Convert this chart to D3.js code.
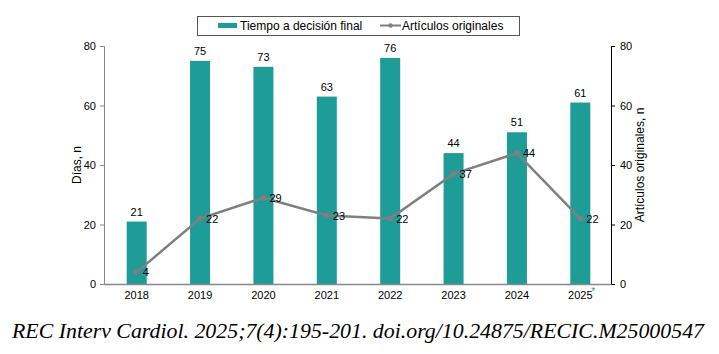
<!DOCTYPE html>
<meta charset="utf-8">
<script src="https://d3js.org/d3.v7.min.js"></script>
<style>
  body { margin: 0; background: #fff; }
  text { font-family: "Liberation Sans", Arial, sans-serif; }
</style>
<div id="chart"></div>
<script>

// data
var years = ["2018", "2019", "2020", "2021", "2022", "2023", "2024", "2025"];
var dias = [21, 75, 73, 63, 76, 44, 51, 61];
var articulos = [4, 22, 29, 23, 22, 37, 44, 22];
var ticks = [0, 20, 40, 60, 80];

var teal = "#1e9c97",
    grey = "#7f7f7f";

var svg = d3.select("#chart")
  .append("svg")
    .attr("width", 719)
    .attr("height", 354);

// scales
var x = d3.scaleBand()
  .domain(years)
  .range([104, 611])
  .padding(0);

var y = d3.scaleLinear().domain([0, 80]).range([284, 46]);
var y2 = d3.scaleLinear().domain([0, 80]).range([284, 46]);

var barW = 20;
function cx(d) { return x(d) + x.bandwidth() / 2 + 1; }

// bars
svg.selectAll("rect.bar")
  .data(years)
  .enter()
  .append("rect")
    .attr("class", "bar")
    .attr("x", function(d) { return cx(d) - barW / 2; })
    .attr("y", function(d, i) { return y(dias[i]); })
    .attr("width", barW)
    .attr("height", function(d, i) { return y(0) - y(dias[i]); })
    .attr("fill", teal);

svg.selectAll("text.barlab")
  .data(years)
  .enter()
  .append("text")
    .attr("x", function(d) { return cx(d); })
    .attr("y", function(d, i) { return y(dias[i]) - 6; })
    .attr("text-anchor", "middle")
    .style("font-size", "11px")
    .text(function(d, i) { return dias[i]; });

// left axis
var left = svg.append("g")
  .attr("transform", "translate(104,0)")
  .call(d3.axisLeft(y).tickValues(ticks).tickSize(4).tickPadding(4));
left.select(".domain").attr("stroke", "#888");
left.selectAll(".tick line").attr("stroke", "#888");
left.selectAll("text").style("font-size", "11px").attr("fill", "#000");

// right axis
var right = svg.append("g")
  .attr("transform", "translate(611,0)")
  .call(d3.axisRight(y2).tickValues(ticks).tickSize(4).tickPadding(5));
right.selectAll("text").style("font-size", "11px").attr("fill", "#000");

// x axis
var bottom = svg.append("g")
  .attr("transform", "translate(0,284)")
  .call(d3.axisBottom(x).tickSize(0).tickPadding(7));
bottom.select(".domain").attr("stroke", "#888").attr("stroke-width", 1.5);
bottom.selectAll("text").style("font-size", "11px").attr("fill", "#000")
  .attr("dx", 1);
bottom.selectAll(".tick")
  .filter(function(d) { return d === "2025"; })
  .append("text")
    .attr("x", 14)
    .attr("y", 11)
    .attr("fill", teal)
    .style("font-size", "10px")
    .text("*");

// line
var line = d3.line()
  .x(function(d) { return cx(d); })
  .y(function(d, i) { return y2(articulos[i]); });

svg.append("path")
  .datum(years)
  .attr("fill", "none")
  .attr("stroke", grey)
  .attr("stroke-width", 2.5)
  .attr("d", line);

svg.selectAll("circle.pt")
  .data(years)
  .enter()
  .append("circle")
    .attr("cx", function(d) { return cx(d); })
    .attr("cy", function(d, i) { return y2(articulos[i]); })
    .attr("r", 3)
    .attr("fill", grey);

svg.selectAll("text.ptlab")
  .data(years)
  .enter()
  .append("text")
    .attr("x", function(d) { return cx(d) + 6; })
    .attr("y", function(d, i) { return y2(articulos[i]) + 4; })
    .style("font-size", "11px")
    .text(function(d, i) { return articulos[i]; });

// axis titles
svg.append("text")
  .attr("transform", "translate(81,165) rotate(-90)")
  .attr("text-anchor", "middle")
  .style("font-size", "12px")
  .text("Días, n");

svg.append("text")
  .attr("transform", "translate(644,165) rotate(-90)")
  .attr("text-anchor", "middle")
  .style("font-size", "12px")
  .text("Artículos originales, n");

// legend
var lg = svg.append("g");
lg.append("rect")
  .attr("x", 197.5).attr("y", 16.5)
  .attr("width", 322).attr("height", 19)
  .attr("fill", "#fff").attr("stroke", "#555");
lg.append("rect")
  .attr("x", 218).attr("y", 23)
  .attr("width", 19).attr("height", 5)
  .attr("fill", teal);
lg.append("text")
  .attr("x", 240).attr("y", 30)
  .style("font-size", "12px")
  .text("Tiempo a decisión final");
lg.append("line")
  .attr("x1", 380).attr("x2", 401)
  .attr("y1", 25.5).attr("y2", 25.5)
  .attr("stroke", grey).attr("stroke-width", 2);
lg.append("circle")
  .attr("cx", 390.5).attr("cy", 25.5).attr("r", 2.2)
  .attr("fill", grey);
lg.append("text")
  .attr("x", 402).attr("y", 30)
  .style("font-size", "12px")
  .text("Artículos originales");

// citation
svg.append("text")
  .attr("x", 12)
  .attr("y", 338)
  .attr("textLength", 692)
  .attr("lengthAdjust", "spacingAndGlyphs")
  .style("font-family", "'Liberation Serif', serif")
  .style("font-style", "italic")
  .style("font-size", "22px")
  .text("REC Interv Cardiol. 2025;7(4):195-201. doi.org/10.24875/RECIC.M25000547");

</script>
